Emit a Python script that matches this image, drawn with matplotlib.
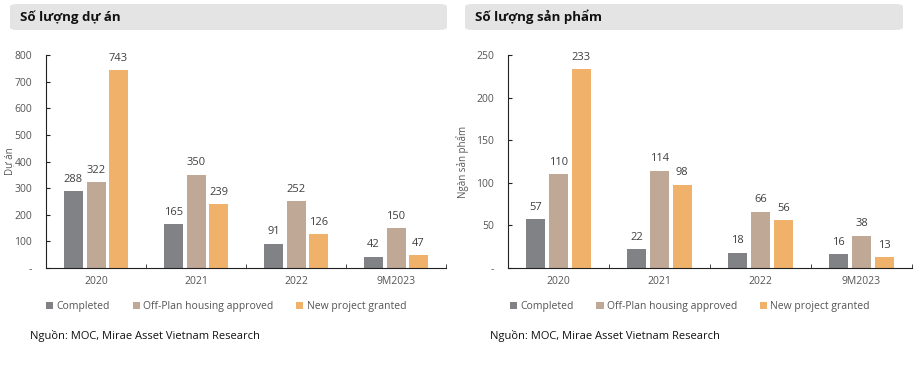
import numpy as np
import matplotlib.pyplot as plt
from matplotlib.patches import FancyBboxPatch

plt.rcParams['font.family'] = ['Open Sans', 'DejaVu Sans']

categories = ["2020", "2021", "2022", "9M2023"]
series_names = ["Completed", "Off-Plan housing approved", "New project granted"]
colors = ["#808285", "#C0A896", "#F0B26A"]

projects_completed = [288, 165, 91, 42]
projects_offplan = [322, 350, 252, 150]
projects_new = [743, 239, 126, 47]

products_completed = [57, 22, 18, 16]
products_offplan = [110, 114, 66, 38]
products_new = [233, 98, 56, 13]

left_ticks = [0, 100, 200, 300, 400, 500, 600, 700, 800]
right_ticks = [0, 50, 100, 150, 200, 250]


def tick_text(v):
    return "-" if v == 0 else str(v)


def draw_panel(fig, rect, series, yticks, ylabel, label_x, title, box, src_x, leg_x):
    ax = fig.add_axes(rect)
    x = np.arange(len(categories))
    w = 0.19
    step = 0.225
    for i, vals in enumerate(series):
        pos = x + (i - 1) * step
        bars = ax.bar(pos, vals, w, color=colors[i], label=series_names[i])
        for b, v in zip(bars, vals):
            ax.text(b.get_x() + b.get_width() / 2, v + yticks[-1] * 0.03, str(v),
                    ha="center", va="bottom", fontsize=8, color="#404040")
    ax.set_xlim(-0.5, len(categories) - 0.5)
    ax.set_ylim(0, yticks[-1])
    ax.set_yticks(yticks)
    ax.set_yticklabels([tick_text(v) for v in yticks], fontsize=7.5, color="#555555")
    ax.set_xticks(x)
    ax.set_xticklabels(categories, fontsize=7.5, color="#555555")
    ax.set_xticks(np.arange(len(categories)) + 0.5, minor=True)
    ax.tick_params(axis="x", which="major", length=0, pad=6)
    ax.tick_params(axis="x", which="minor", direction="in", length=3, color="#222222")
    ax.tick_params(axis="y", direction="in", length=3, color="#222222", pad=10)
    for s in ["top", "right"]:
        ax.spines[s].set_visible(False)
    ax.spines["left"].set_color("#222222")
    ax.spines["bottom"].set_color("#222222")
    ax.set_ylabel(ylabel, fontsize=7, color="#555555")
    ax.yaxis.set_label_coords(label_x, 0.5)
    ax.legend(loc="center", bbox_to_anchor=(leg_x, -0.18), ncol=3, frameon=False,
              fontsize=7.5, handlelength=0.7, handleheight=0.7, handletextpad=0.3,
              columnspacing=2.2, labelcolor="#555555")

    x0, y0, bw, bh = box
    fig.patches.append(FancyBboxPatch((x0, y0), bw, bh, boxstyle="round,pad=0,rounding_size=0.008",
                                      transform=fig.transFigure, facecolor="#E4E4E4",
                                      edgecolor="none", zorder=0))
    fig.text(x0 + 0.011, y0 + bh / 2, title, fontsize=9.5, fontweight="bold",
             va="center", ha="left", color="#111111")
    fig.text(src_x, 1 - 336 / 374, "Nguồn: MOC, Mirae Asset Vietnam Research",
             fontsize=8, va="center", ha="left", color="#111111")
    return ax


fig = plt.figure(figsize=(9.19, 3.74), dpi=100)
fig.patch.set_facecolor("white")

H = 374.0
W = 919.0
ay0 = 1 - 268 / H
ah = (268 - 55) / H

draw_panel(fig, [46 / W, ay0, 400 / W, ah],
           [projects_completed, projects_offplan, projects_new], left_ticks,
           "Dự án", -0.078, "Số lượng dự án",
           (10 / W, 1 - 30 / H, 437 / W, 26 / H), 30 / W, 0.45)

draw_panel(fig, [508 / W, ay0, 404 / W, ah],
           [products_completed, products_offplan, products_new], right_ticks,
           "Ngàn sản phẩm", -0.096, "Số lượng sản phẩm",
           (465 / W, 1 - 30 / H, 438 / W, 26 / H), 490 / W, 0.45)

fig.savefig("out.png", dpi=100)
